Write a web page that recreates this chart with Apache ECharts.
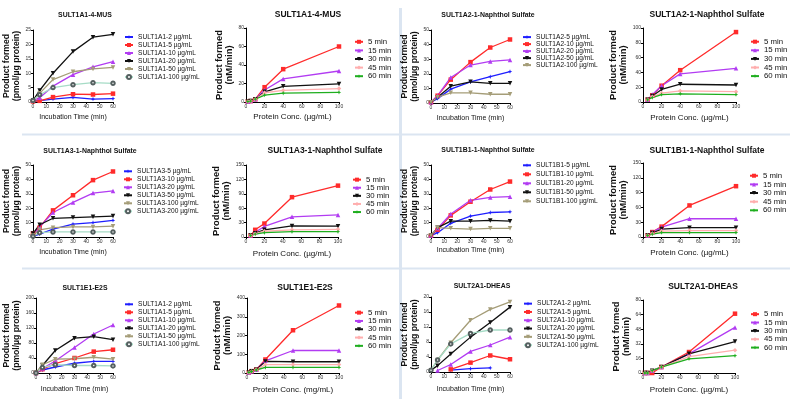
<!DOCTYPE html>
<html>
<head>
<meta charset="utf-8">
<script src="https://cdn.jsdelivr.net/npm/echarts@6/dist/echarts.min.js"></script>
<style>
html, body { margin: 0; padding: 0; background: #fff; }
#chart { width: 799px; height: 399px; }
</style>
</head>
<body>
<div id="chart"></div>
<script>
// x values
var timeX = [0, 5, 15, 30, 45, 60];
var musConcX = [2, 5, 10, 20, 40, 100];
var concX5a = [5, 10, 20, 40, 100];
var concX5 = [5, 10, 20, 50, 100];
var concX6 = [2, 5, 10, 20, 50, 100];

// legend names
var minNames = ['5 min', '15 min', '30 min', '45 min', '60 min'];
var names1A1 = ['SULT1A1-2 µg/mL', 'SULT1A1-5 µg/mL', 'SULT1A1-10 µg/mL', 'SULT1A1-20 µg/mL', 'SULT1A1-50 µg/mL', 'SULT1A1-100 µg/mL'];
var names1A2 = ['SULT1A2-5 µg/mL', 'SULT1A2-10 µg/mL', 'SULT1A2-20 µg/mL', 'SULT1A2-50 µg/mL', 'SULT1A2-100 µg/mL'];
var names1A3 = ['SULT1A3-5 µg/mL', 'SULT1A3-10 µg/mL', 'SULT1A3-20 µg/mL', 'SULT1A3-50 µg/mL', 'SULT1A3-100 µg/mL', 'SULT1A3-200 µg/mL'];
var names1B1 = ['SULT1B1-5 µg/mL', 'SULT1B1-10 µg/mL', 'SULT1B1-20 µg/mL', 'SULT1B1-50 µg/mL', 'SULT1B1-100 µg/mL'];
var names2A1 = ['SULT2A1-2 µg/mL', 'SULT2A1-5 µg/mL', 'SULT2A1-10 µg/mL', 'SULT2A1-20 µg/mL', 'SULT2A1-50 µg/mL', 'SULT2A1-100 µg/mL'];

// values (one row per series)
var musTime = [
  [0.3, 0.5, 1.0, 1.6, 1.0, 1.2],
  [0.2, 0.4, 1.7, 2.7, 2.6, 2.9],
  [0.5, 1.5, 5.5, 9.5, 12.2, 14],
  [0.5, 4, 10, 17.5, 22.5, 23.5],
  [0.3, 3, 7.8, 10.5, 11.5, 12],
  [0.5, 2.5, 5, 6, 6.7, 6.5]
];
var musConc = [
  [0.5, 1, 3, 16, 35.5, 60],
  [0.5, 1, 3, 13, 25, 33.5],
  [0.5, 1, 3, 11, 17, 19.5],
  [0.5, 1, 3, 10, 12.5, 14.5],
  [0.5, 1, 3, 7.5, 9.5, 10.5]
];
var naph1A2Time = [
  [0.5, 3, 9.5, 14.5, 18, 21.5],
  [0.5, 5, 16, 28, 38, 43.5],
  [0.5, 5, 17.5, 26, 28.5, 29.5],
  [0.5, 4, 11.5, 14.5, 13.5, 13.5],
  [0.5, 4, 7, 7, 6, 6]
];
var naph1A2Conc = [
  [3, 9, 22, 43, 94.5],
  [3, 10, 22, 38, 45.5],
  [3, 8, 17, 24, 23],
  [3, 7, 12, 15, 14],
  [3, 6, 10, 11, 10]
];
var naph1A3Time = [
  [0.5, 2, 5.5, 9, 10, 11.5],
  [2.5, 6.5, 18.5, 29, 39.5, 45.5],
  [1, 7, 17, 24, 30.5, 32],
  [2.5, 8.5, 13, 13.5, 14, 14.5],
  [1, 5, 6.5, 7, 7, 7.5],
  [0.5, 3, 3.5, 3.5, 3.5, 3.5]
];
var naph1A3Conc = [
  [3, 15, 28, 83, 107],
  [3, 10, 22, 42, 46],
  [3, 8, 15, 23, 22.5],
  [3, 7, 12, 15, 16],
  [3, 6, 9, 11, 11]
];
var naph1B1Time = [
  [1, 3, 9.5, 14.5, 17, 17.5],
  [1, 5, 15, 24.5, 33, 38.5],
  [1, 6, 16, 25.5, 27.5, 28],
  [1, 6.5, 11, 11, 11.5, 11],
  [1, 6.5, 6, 5.5, 6, 6]
];
var naph1B1Conc = [
  [3, 10, 21, 64, 103],
  [3, 10, 20, 37, 37],
  [3, 8, 16, 19, 19],
  [3, 7, 12, 13, 13],
  [3, 6, 9, 9, 9]
];
var e2sTime = [
  [0, 8, 16, 26, 31, 31],
  [0, 10, 25, 40, 57, 62],
  [0, 12, 32, 68, 104, 128],
  [0, 20, 60, 93, 97, 89],
  [0, 22, 37, 38, 42, 37],
  [0, 15, 22, 20, 20, 19]
];
var e2sConc = [
  [3, 10, 18, 72, 228, 360],
  [3, 10, 18, 65, 120, 120],
  [3, 10, 18, 62, 60, 60],
  [3, 8, 17, 45, 45, 45],
  [3, 8, 16, 30, 30, 30]
];
var dheasTime = [
  [null, null, 0.5, 0.9, 1.1, null],
  [null, null, 0.7, 2.5, 4.4, 3.4],
  [null, 0.4, 2, 5.5, 7.2, 9.3],
  [0.5, 1.7, 4.8, 9.3, 13.2, 17.3],
  [0.5, 3.2, 7.8, 13.8, 16.7, 18.7],
  [0.5, 3.2, 7.5, 10.3, 11.2, 11.2]
];
var dheasConc = [
  [0, 0, 0, 6.5, 23, 65],
  [0, 0, 2.5, 6.5, 21, 50],
  [0, 0, 2.5, 6.5, 21, 34.5],
  [0, 0, 2.5, 6.5, 18, 25],
  [0, 0, 2.5, 6.5, 15.5, 19]
];

// y axis ranges
var yMax = [25, 80, 50, 100, 50, 150, 50, 150, 200, 400, 20, 80];
var yStep = [5, 20, 10, 20, 10, 30, 10, 30, 40, 100, 4, 16];

var panels = [
  { title: 'SULT1A1-4-MUS', time: true, x: timeX, ys: musTime, names: names1A1 },
  { title: 'SULT1A1-4-MUS', time: false, x: musConcX, ys: musConc, names: minNames },
  { title: 'SULT1A2-1-Naphthol Sulfate', time: true, x: timeX, ys: naph1A2Time, names: names1A2 },
  { title: 'SULT1A2-1-Naphthol Sulfate', time: false, x: concX5a, ys: naph1A2Conc, names: minNames },
  { title: 'SULT1A3-1-Naphthol Sulfate', time: true, x: timeX, ys: naph1A3Time, names: names1A3 },
  { title: 'SULT1A3-1-Naphthol Sulfate', time: false, x: concX5, ys: naph1A3Conc, names: minNames },
  { title: 'SULT1B1-1-Naphthol Sulfate', time: true, x: timeX, ys: naph1B1Time, names: names1B1 },
  { title: 'SULT1B1-1-Naphthol Sulfate', time: false, x: concX5, ys: naph1B1Conc, names: minNames },
  { title: 'SULT1E1-E2S', time: true, x: timeX, ys: e2sTime, names: names1A1 },
  { title: 'SULT1E1-E2S', time: false, x: concX6, ys: e2sConc, names: minNames, unit: 'mg/mL' },
  { title: 'SULT2A1-DHEAS', time: true, x: timeX, ys: dheasTime, names: names2A1 },
  { title: 'SULT2A1-DHEAS', time: false, x: concX6, ys: dheasConc, names: minNames }
];

// placement: grid [left, top, width, height], title centre, legend [left, top, row step], name gaps
var layout = [
  { g: [33, 30, 80, 72], t: [85, 15], l: [124, 33, 8], yg: 5, xg: 12 },
  { g: [246, 28, 93, 74], t: [308, 15], l: [354, 37.5, 8.6], yg: 10, xg: 11 },
  { g: [431, 30, 79, 73], t: [488, 15], l: [522, 33.6, 6.25], yg: 4, xg: 12 },
  { g: [643, 28, 93, 74], t: [707, 15], l: [750, 37.4, 8.6], yg: 10, xg: 12 },
  { g: [33, 165, 80, 72], t: [90, 151], l: [123, 167.3, 8], yg: 4.5, xg: 12 },
  { g: [246, 165, 92, 72], t: [325, 151], l: [352, 175.6, 8.1], yg: 9.5, xg: 13 },
  { g: [431, 165, 79, 72], t: [488, 150.5], l: [522, 160.8, 9], yg: 4, xg: 10 },
  { g: [643, 163, 93, 74], t: [707, 150.5], l: [749, 171.4, 8.65], yg: 10, xg: 12 },
  { g: [36, 298, 77, 75], t: [85, 288], l: [124, 300.3, 8], yg: 6, xg: 13 },
  { g: [247, 298, 92, 75], t: [305, 288], l: [354, 308.5, 8.3], yg: 10, xg: 13 },
  { g: [431, 297, 79, 75], t: [482, 286.5], l: [523, 299.5, 8.3], yg: 4, xg: 14 },
  { g: [643, 300, 92, 73], t: [703, 286.5], l: [750, 310, 8.35], yg: 10, xg: 13 }
];

var triDown = 'path://M0,0L10,0L5,9Z';
var star4 = 'path://M5,0L6.4,3.6L10,5L6.4,6.4L5,10L3.6,6.4L0,5L3.6,3.6Z';
var timeStyle = [
  { color: '#1e1eff', symbol: star4 },
  { color: '#ff2b2b', symbol: 'rect' },
  { color: '#b23cf2', symbol: 'triangle' },
  { color: '#111111', symbol: triDown },
  { color: '#a59d78', symbol: triDown },
  { color: '#a6dcc6', symbol: 'emptyCircle', mark: '#556060' }
];
var concStyle = [
  { color: '#ff2b2b', symbol: 'rect' },
  { color: '#b23cf2', symbol: 'triangle' },
  { color: '#111111', symbol: triDown },
  { color: '#ffaeae', symbol: 'diamond' },
  { color: '#1fae1f', symbol: star4 }
];

var font = 'Liberation Sans, Arial, sans-serif';
var grids = [], xAxes = [], yAxes = [], titles = [], legends = [], series = [];

panels.forEach(function (p, i) {
  var L = layout[i];
  grids.push({ left: L.g[0], top: L.g[1], width: L.g[2], height: L.g[3] });
  titles.push({
    text: p.title, left: L.t[0], top: L.t[1] - (p.time ? 3.6 : 4.4), textAlign: 'center', padding: 0,
    textStyle: { fontSize: p.time ? 6.9 : 8.5, fontWeight: 'bold', color: '#111', fontFamily: font }
  });
  xAxes.push({
    gridIndex: i, type: 'value', min: 0, max: p.time ? 60 : 100, interval: p.time ? 10 : 20,
    name: p.time ? 'Incubation Time (min)' : 'Protein Conc. (' + (p.unit || 'µg/mL') + ')',
    nameLocation: 'middle', nameGap: L.xg,
    nameTextStyle: { fontSize: p.time ? 7 : 8, color: '#111', fontFamily: font },
    axisLine: { show: true, onZero: false, lineStyle: { color: '#000', width: 1 } },
    axisTick: { show: true, length: 2, lineStyle: { color: '#000', width: 1 } },
    axisLabel: { fontSize: 5, margin: 2, color: '#333', fontFamily: font },
    splitLine: { show: false }
  });
  yAxes.push({
    gridIndex: i, type: 'value', min: 0, max: yMax[i], interval: yStep[i],
    name: p.time ? 'Product formed\n(pmol/µg protein)' : 'Product formed\n(nM/min)',
    nameLocation: 'middle', nameRotate: 90, nameGap: L.yg,
    nameTextStyle: { fontSize: p.time ? 8.6 : 9.4, lineHeight: 10, fontWeight: 'bold', color: '#111', fontFamily: font },
    axisLine: { show: true, lineStyle: { color: '#000', width: 1 } },
    axisTick: { show: true, length: 2, lineStyle: { color: '#000', width: 1 } },
    axisLabel: { fontSize: 5, margin: 2, color: '#333', fontFamily: font },
    splitLine: { show: false }
  });
  legends.push({
    data: p.names, orient: 'vertical', left: L.l[0], top: L.l[1], padding: 0, itemGap: 0,
    itemWidth: 8, itemHeight: 5, selectedMode: false,
    textStyle: { fontSize: p.time ? 6.6 : 7.8, lineHeight: L.l[2], color: '#111', fontFamily: font }
  });
  var styles = p.time ? timeStyle : concStyle;
  p.ys.forEach(function (row, k) {
    var s = styles[k];
    var pts = [];
    row.forEach(function (v, j) { if (v !== null) pts.push([p.x[j], v]); });
    series.push({
      type: 'line', name: p.names[k], xAxisIndex: i, yAxisIndex: i, data: pts,
      symbol: s.symbol, symbolSize: s.mark ? 3.5 : 4.5, showSymbol: true,
      lineStyle: { color: s.color, width: 1.3 },
      itemStyle: { color: s.mark || s.color, borderWidth: s.mark ? 1 : 0 },
      emphasis: { disabled: true }
    });
  });
});

var chart = echarts.init(document.getElementById('chart'));
chart.setOption({
  animation: false,
  backgroundColor: '#fff',
  textStyle: { fontFamily: font },
  title: titles,
  legend: legends,
  grid: grids,
  xAxis: xAxes,
  yAxis: yAxes,
  series: series,
  graphic: [
    { type: 'line', shape: { x1: 22, y1: 134.5, x2: 790, y2: 134.5 }, style: { stroke: '#dbe5f1', lineWidth: 2 }, silent: true },
    { type: 'line', shape: { x1: 22, y1: 268.5, x2: 790, y2: 268.5 }, style: { stroke: '#dbe5f1', lineWidth: 2 }, silent: true },
    { type: 'line', shape: { x1: 400.5, y1: 8, x2: 400.5, y2: 399 }, style: { stroke: '#dbe5f1', lineWidth: 3 }, silent: true }
  ]
});
</script>
</body>
</html>
